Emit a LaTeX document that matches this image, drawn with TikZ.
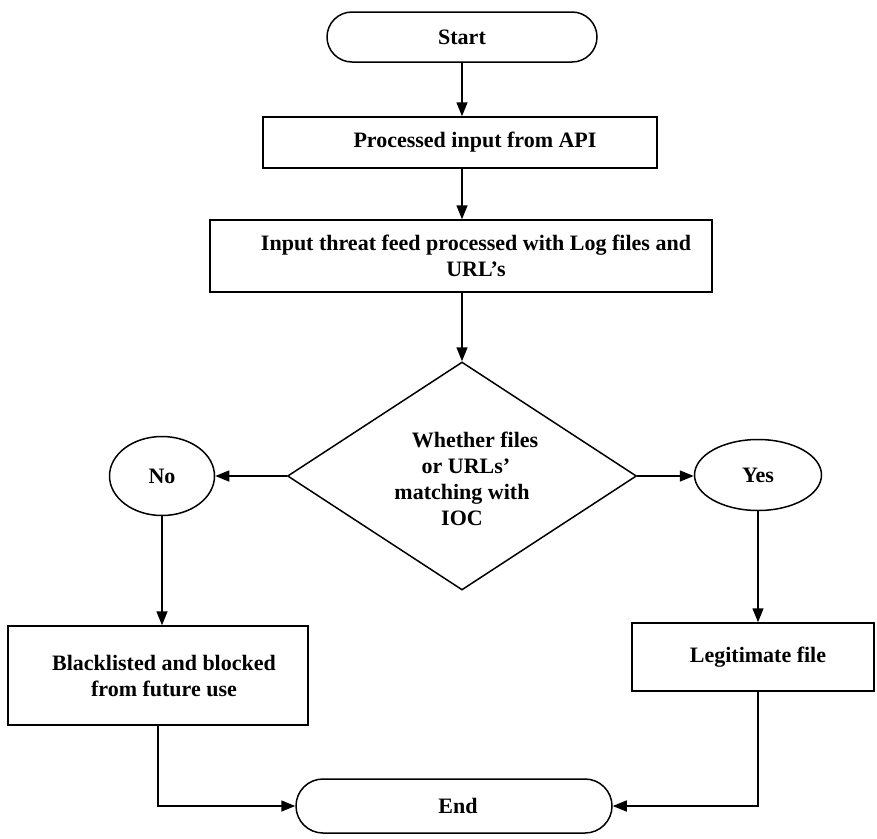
\documentclass[tikz,border=0pt]{standalone}
\usepackage{fontspec}
\setmainfont{Liberation Serif}
\usetikzlibrary{arrows.meta,shapes.misc,shapes.geometric}
\begin{document}
\begin{tikzpicture}[x=1pt,y=-1pt,
  every node/.style={font=\fontsize{22}{26}\selectfont\bfseries, inner sep=0pt, line width=1.5pt},
  terminal/.style={draw, rounded rectangle, minimum height=#1},
  process/.style={draw, rectangle, align=center},
  decision/.style={draw, diamond, minimum width=349pt, minimum height=228pt},
  answer/.style={draw, ellipse},
  flow/.style={line width=1.5pt, -{Triangle[length=14pt,width=11pt]}}]
\useasboundingbox (0,0) rectangle (877,838);

% terminals
\node[terminal=50pt, minimum width=270pt] (start) at (462,37) {Start};
\node[terminal=54pt, minimum width=316pt] (end) at (454,806) {\hspace*{8pt}End};

% processing steps
\node[process, minimum width=394pt, minimum height=51pt] (api) at (460,142.5) {\hspace*{30pt}Processed input from API};
\node[process, minimum width=502pt, minimum height=72pt] (feed) at (461,256)
  {\hspace*{30pt}Input threat feed processed with Log files and\\\hspace*{30pt}URL’s};

% decision: outline and its question
\node[decision] (dec) at (462,476) {};
\node[align=center] (question) at (462,479)
  {\hspace*{26pt}Whether files\\\hspace*{8pt}or URLs’\\matching with\\IOC};

% outcomes
\node[answer, minimum width=105pt, minimum height=79pt] (no) at (162,476) {No};
\node[answer, minimum width=127pt, minimum height=71pt] (yes) at (758,475) {Yes};

\node[process, minimum width=300pt, minimum height=99pt] (black) at (158,675.5)
  {\hspace*{12pt}Blacklisted and blocked\\\hspace*{12pt}from future use};
\node[process, minimum width=242pt, minimum height=68pt] (legit) at (753,657) {\hspace*{10pt}Legitimate file};

% connectors
\draw[flow] (start.south) -- (start.south |- api.north);
\draw[flow] (start.south |- api.south) -- (start.south |- feed.north);
\draw[flow] (start.south |- feed.south) -- (dec.north);
\draw[flow] (dec.west) -- (dec.west -| no.east);
\draw[flow] (dec.east) -- (dec.east -| yes.west);
\draw[flow] (no.south) -- (no.south |- black.north);
\draw[flow] (yes.south) -- (yes.south |- legit.north);
\draw[flow] (black.south) |- (end.west);
\draw[flow] (yes.south |- legit.south) |- (end.east);
\end{tikzpicture}
\end{document}
